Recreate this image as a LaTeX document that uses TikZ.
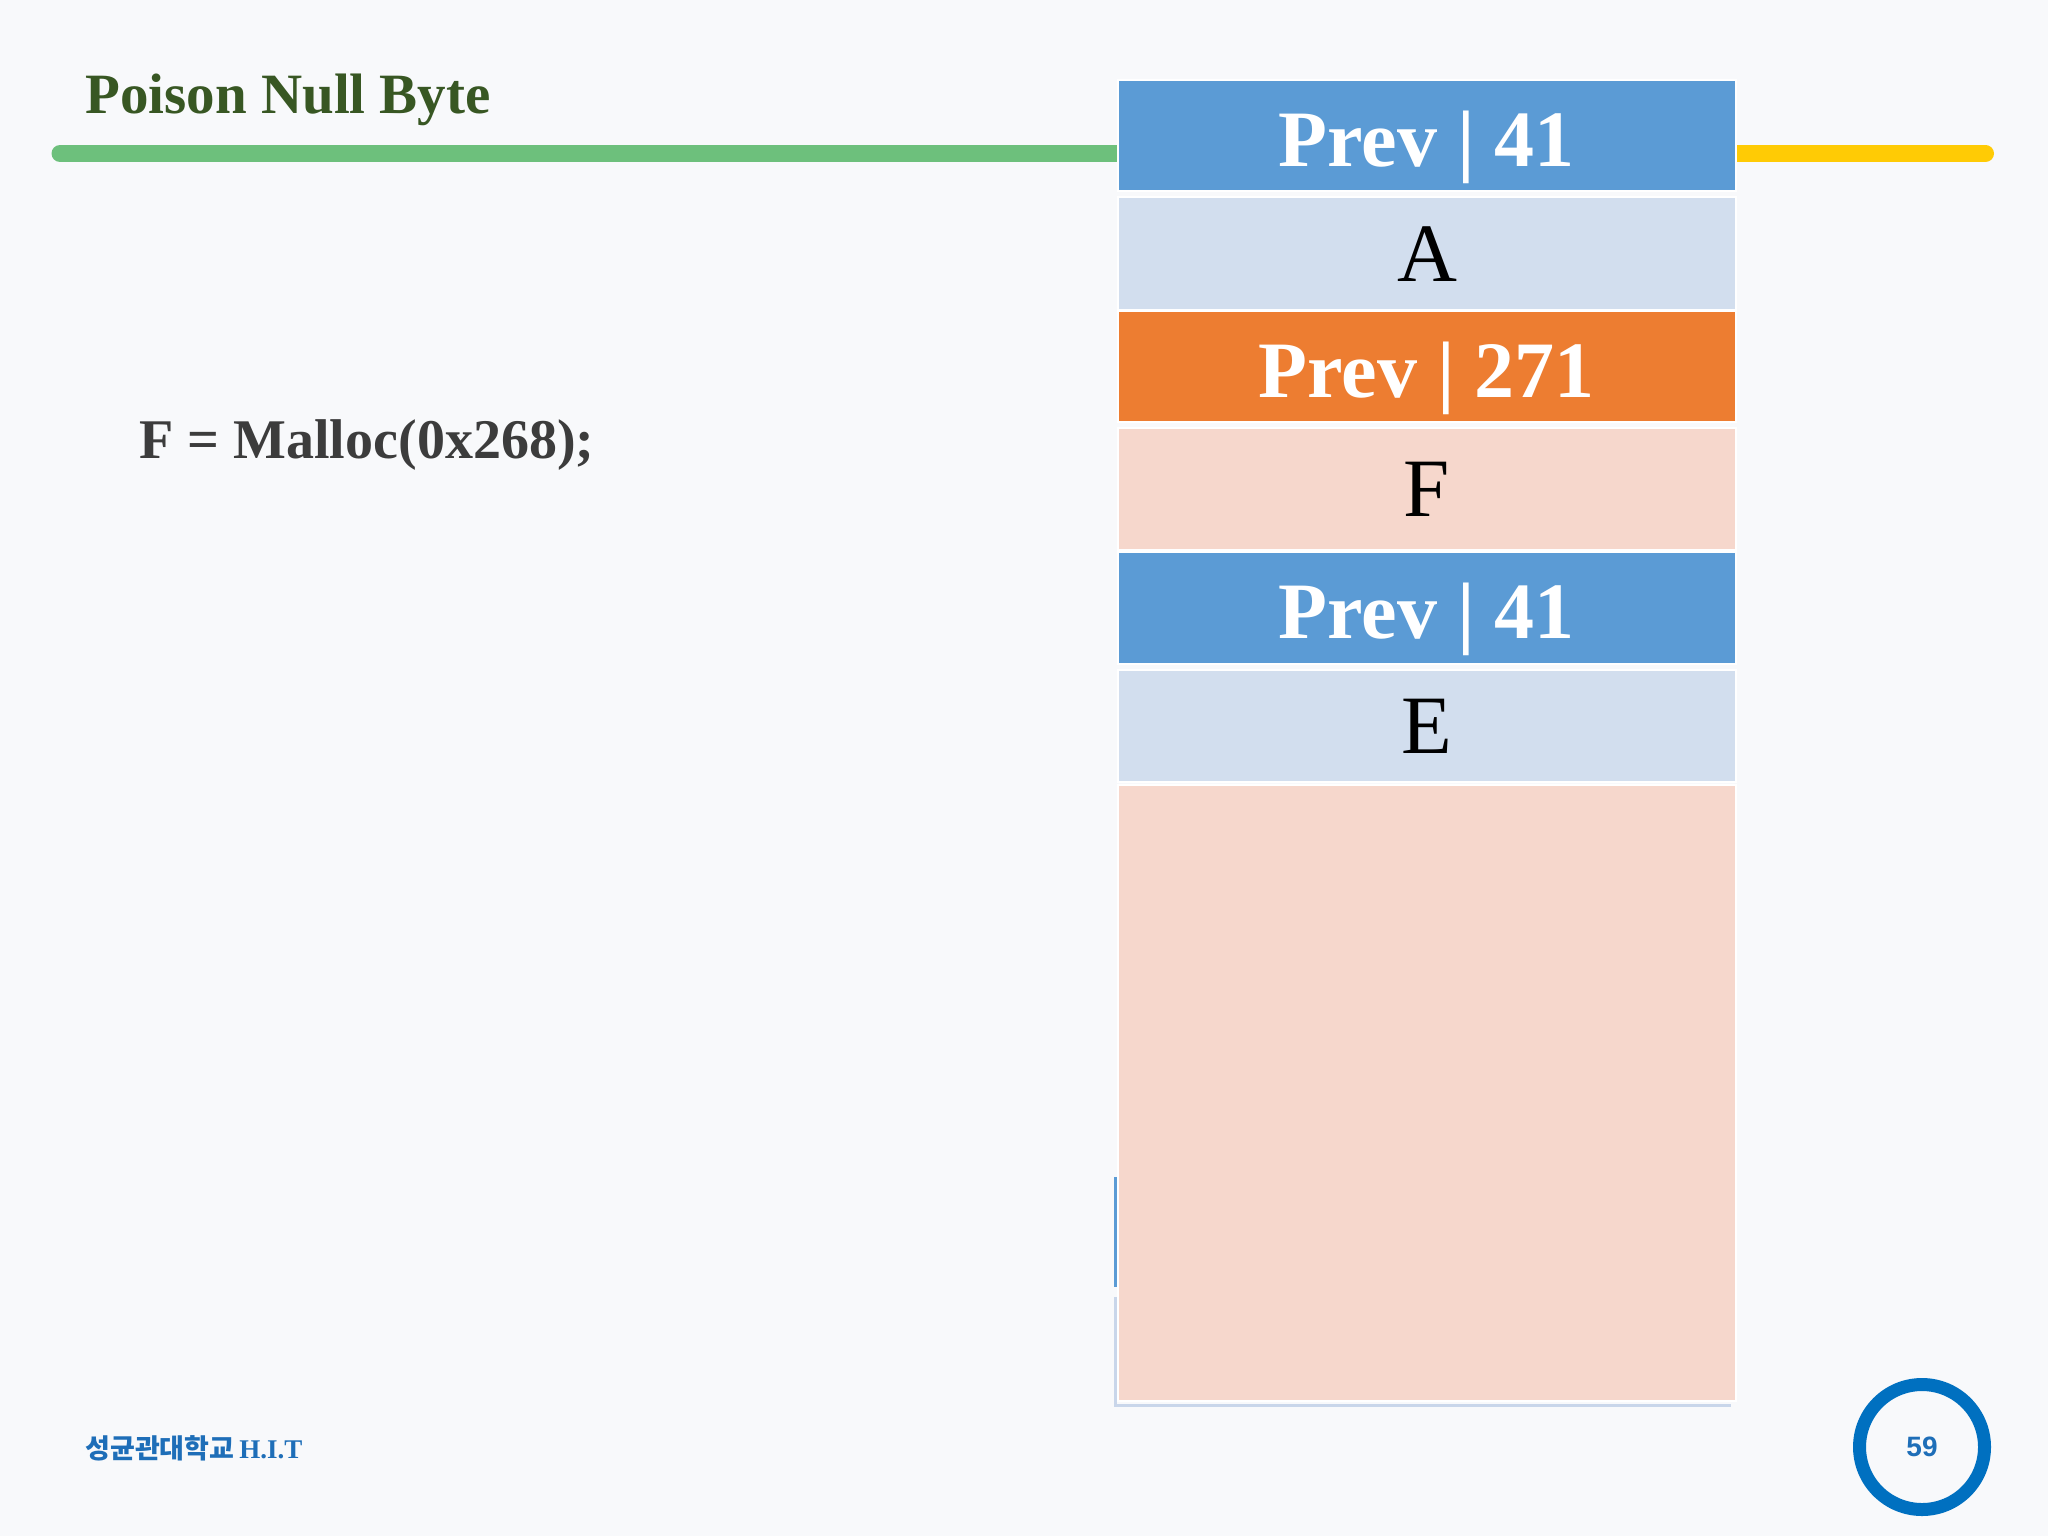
\documentclass[tikz,border=0pt]{standalone}
\usepackage{fontspec}
\setmainfont{Liberation Serif}
\newfontfamily\krfont{Noto Sans CJK KR}
\newfontfamily\arialfont{Liberation Sans}
\definecolor{bgc}{HTML}{F8F9FB}
\definecolor{titlec}{HTML}{385723}
\definecolor{greenc}{HTML}{6DC07C}
\definecolor{yellowc}{HTML}{FFCB05}
\definecolor{cblue}{HTML}{5B9BD5}
\definecolor{clblue}{HTML}{D2DEEE}
\definecolor{corange}{HTML}{ED7D31}
\definecolor{cpink}{HTML}{F6D7CC}
\definecolor{codec}{HTML}{3C3C3C}
\definecolor{footc}{HTML}{1E6EB8}
\definecolor{ringc}{HTML}{0070C0}
\definecolor{edgec}{HTML}{C9D6EA}
\tikzset{
  stackbox/.style={rectangle, inner sep=0pt, minimum width=309pt, draw=white, line width=1.2pt},
  prevtext/.style={text=white, font=\fontsize{40}{40}\selectfont\bfseries, text height=30.5pt, text depth=0pt},
  lettertext/.style={text=black, font=\fontsize{41.5}{41.5}\selectfont, text height=27.5pt, text depth=0pt},
  barline/.style={line width=8.5pt, line cap=round},
}
\begin{document}
\begin{tikzpicture}[x=0.5pt,y=-0.5pt]
\fill[bgc] (0,0) rectangle (2048,1536);
\useasboundingbox (0,0) rectangle (2048,1536);

% title
\node[anchor=base west, inner sep=0pt, text=titlec, font=\fontsize{28.5}{28.5}\selectfont\bfseries] (title) at (85,113) {Poison Null Byte};

% code line
\node[anchor=base west, inner sep=0pt, text=codec, font=\fontsize{28}{28}\selectfont\bfseries] (code) at (139,458) {F = Malloc(0x268);};

% artifacts left of the big box
\draw[cblue, line width=1.5pt] (1115,1177) -- (1115,1287);
\coordinate (ea) at (1115,1297);
\coordinate (eb) at (1115,1405);
\coordinate (ec) at (1731,1405);
\draw[edgec, line width=1.5pt] (ea) -- (eb) -- (ec);

% lines
\coordinate (gstart) at (60,153.5);
\coordinate (yend) at (1985.5,153.5);
\draw[greenc, barline] (gstart) -- (gstart -| 1125,0);
\draw[yellowc, barline] (1730,153.5) -- (yend);

% stack
\node[stackbox, fill=cblue, minimum height=55.5pt, prevtext] (b1) at (1427,135.5) {Prev | 41};
\node[stackbox, fill=clblue, minimum height=56.5pt, lettertext] (b2) at (1427,253.5) {A};
\node[stackbox, fill=corange, minimum height=55.5pt, prevtext] (b3) at (1427,366.5) {Prev | 271};
\node[stackbox, fill=cpink, minimum height=61pt, lettertext] (b4) at (1427,489) {F};
\node[stackbox, fill=cblue, minimum height=56pt, prevtext] (b5) at (1427,608) {Prev | 41};
\node[stackbox, fill=clblue, minimum height=56pt, lettertext] (b6) at (1427,726) {E};
\node[stackbox, fill=cpink, minimum height=308pt] (b7) at (1427,1093) {};

% footer
\node[anchor=base west, inner sep=0pt, text=footc] (foot) at (85,1458)
  {{\krfont\bfseries\fontsize{13.5}{13.5}\selectfont 성균관대학교} {\bfseries\fontsize{13.5}{13.5}\selectfont H.I.T}};

% page number
\node[circle, draw=ringc, line width=6.5pt, minimum size=62.5pt, inner sep=0pt,
      text=footc, font=\arialfont\bfseries\fontsize{14}{14}\selectfont] (page) at (1922,1447) {59};
\end{tikzpicture}
\end{document}
